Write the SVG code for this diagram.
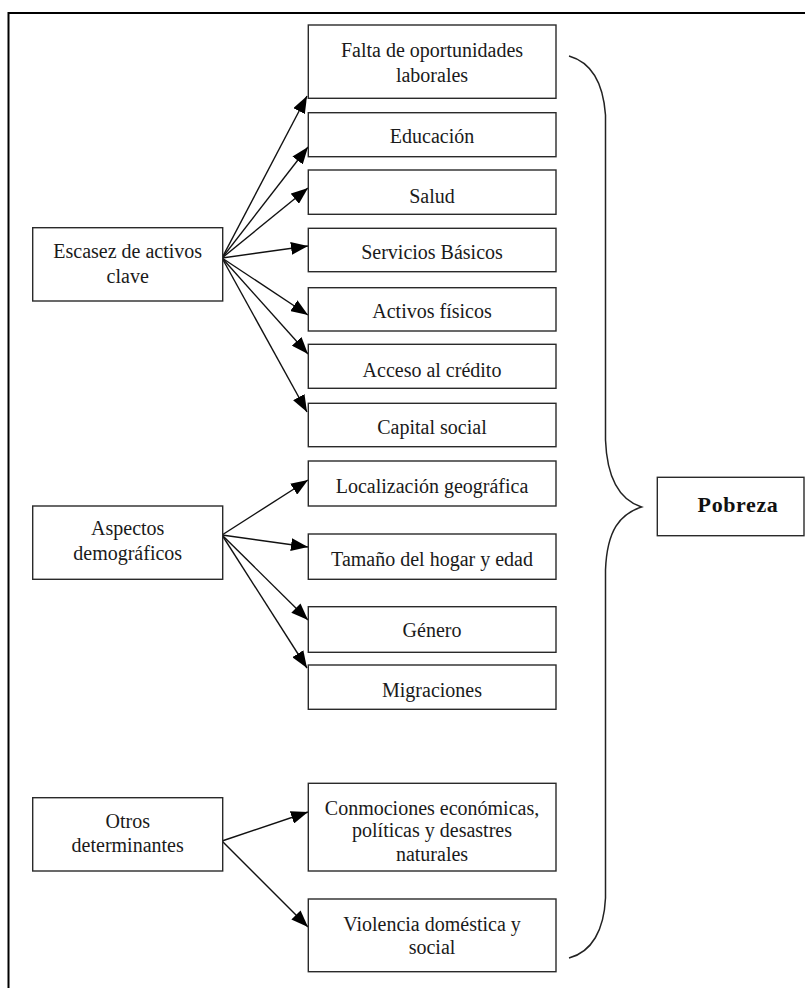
<svg xmlns="http://www.w3.org/2000/svg" width="805" height="988" viewBox="0 0 805 988">
<defs>
<style>
.box{fill:#fff;stroke:#2a2a2a;stroke-width:1.4}
.t{font-family:'Liberation Serif','DejaVu Serif',serif;font-size:20px;fill:#1a1a1a;text-anchor:middle}
.tb{font-family:'Liberation Serif','DejaVu Serif',serif;font-size:22px;letter-spacing:0.6px;font-weight:bold;fill:#111;text-anchor:middle}
.c{stroke:#111;stroke-width:1.4;fill:none;marker-end:url(#ah)}
</style>
<marker id="ah" markerUnits="userSpaceOnUse" markerWidth="17" markerHeight="13" refX="17" refY="6.5" orient="auto">
<path d="M0,0 L17,6.5 L0,13 z" fill="#000"/>
</marker>
</defs>
<rect width="805" height="988" fill="#fff"/>
<path d="M8.5,988 L8.5,13 L805,13" fill="none" stroke="#000" stroke-width="2"/>

<g id="connectors">
<line class="c" x1="222" y1="258" x2="307" y2="96"/>
<line class="c" x1="222" y1="258" x2="308" y2="147"/>
<line class="c" x1="222" y1="258" x2="308" y2="188"/>
<line class="c" x1="222" y1="258" x2="308" y2="246"/>
<line class="c" x1="222" y1="258" x2="308" y2="315"/>
<line class="c" x1="222" y1="258" x2="308" y2="354"/>
<line class="c" x1="222" y1="258" x2="307" y2="412"/>
<line class="c" x1="222" y1="535" x2="308" y2="480"/>
<line class="c" x1="222" y1="535" x2="308" y2="547"/>
<line class="c" x1="222" y1="535" x2="308" y2="620"/>
<line class="c" x1="222" y1="535" x2="307" y2="668"/>
<line class="c" x1="222" y1="841" x2="308" y2="812"/>
<line class="c" x1="222" y1="841" x2="308" y2="927"/>
</g>

<g id="brace">
<path d="M569,56 C590,62 603,80 605.5,115 L605.5,440 C607,480 620,500 641.5,507 C620,514 607,530 605.5,570 L605.5,898 C604,930 592,952 569,958" fill="none" stroke="#222" stroke-width="1.5"/>
</g>

<g id="escasez"><rect class="box" x="32.7" y="227.7" width="190" height="73.3"/><text class="t" x="127.7" y="258.3">Escasez de activos</text><text class="t" x="127.7" y="282.7">clave</text></g>
<g id="aspectos"><rect class="box" x="32.7" y="506" width="190" height="73.3"/><text class="t" x="127.7" y="535">Aspectos</text><text class="t" x="127.7" y="560">demográficos</text></g>
<g id="otros"><rect class="box" x="32.7" y="797.7" width="190" height="73.3"/><text class="t" x="127.7" y="828.3">Otros</text><text class="t" x="127.7" y="851.7">determinantes</text></g>

<g id="falta"><rect class="box" x="308.3" y="25" width="247.7" height="73.3"/><text class="t" x="432" y="56.7">Falta de oportunidades</text><text class="t" x="432" y="81.7">laborales</text></g>
<g id="educacion"><rect class="box" x="308.3" y="112.7" width="247.7" height="44"/><text class="t" x="432" y="142.7">Educación</text></g>
<g id="salud"><rect class="box" x="308.3" y="170" width="247.7" height="44.3"/><text class="t" x="432" y="202.7">Salud</text></g>
<g id="servicios"><rect class="box" x="308.3" y="228.3" width="247.7" height="43.4"/><text class="t" x="432" y="259.3">Servicios Básicos</text></g>
<g id="activos"><rect class="box" x="308.3" y="287.7" width="247.7" height="43.3"/><text class="t" x="432" y="317.7">Activos físicos</text></g>
<g id="acceso"><rect class="box" x="308.3" y="344.3" width="247.7" height="44"/><text class="t" x="432" y="377.3">Acceso al crédito</text></g>
<g id="capital"><rect class="box" x="308.3" y="403.3" width="247.7" height="43.4"/><text class="t" x="432" y="434.3">Capital social</text></g>
<g id="localizacion"><rect class="box" x="308.3" y="461" width="247.7" height="45"/><text class="t" x="432" y="492.7">Localización geográfica</text></g>
<g id="tamano"><rect class="box" x="308.3" y="534" width="247.7" height="45.3"/><text class="t" x="432" y="565.7">Tamaño del hogar y edad</text></g>
<g id="genero"><rect class="box" x="308.3" y="606.7" width="247.7" height="45.6"/><text class="t" x="432" y="637.3">Género</text></g>
<g id="migraciones"><rect class="box" x="308.3" y="665" width="247.7" height="44.3"/><text class="t" x="432" y="696.7">Migraciones</text></g>
<g id="conmociones"><rect class="box" x="308.3" y="783.3" width="247.7" height="87.7"/><text class="t" x="432" y="815">Conmociones económicas,</text><text class="t" x="432" y="837.3">políticas y desastres</text><text class="t" x="432" y="860.7">naturales</text></g>
<g id="violencia"><rect class="box" x="308.3" y="899" width="247.7" height="72.7"/><text class="t" x="432" y="930.7">Violencia doméstica y</text><text class="t" x="432" y="954">social</text></g>

<g id="pobreza"><rect class="box" x="657.3" y="477.3" width="146.7" height="58.4"/><text class="tb" x="738" y="511.7">Pobreza</text></g>
</svg>
